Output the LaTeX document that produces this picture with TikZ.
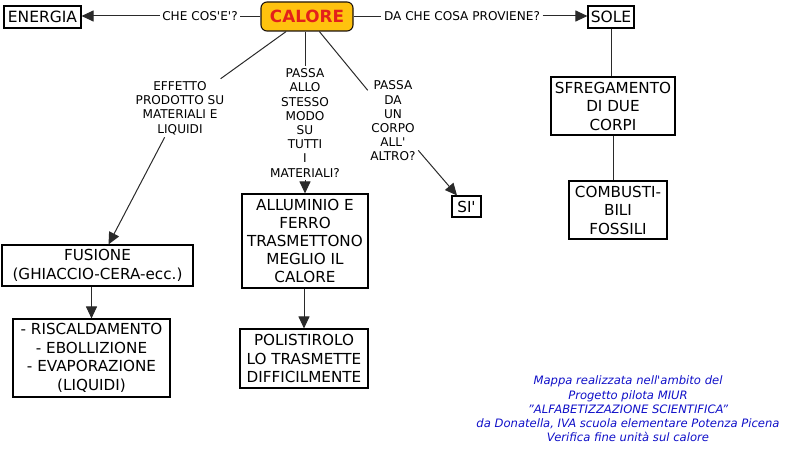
\documentclass[tikz,border=0pt]{standalone}
\usepackage{fontspec}
\setmainfont{DejaVu Sans}
\usetikzlibrary{arrows.meta}
\definecolor{calfill}{HTML}{FFC20E}
\definecolor{calred}{HTML}{E3201B}
\definecolor{footblue}{HTML}{1010C8}
\definecolor{linegray}{HTML}{2A2A2A}
\newcommand\aq{\textquotesingle}
\begin{document}
\begin{tikzpicture}[x=1pt,y=-1pt,
  box/.style={draw=black, line width=1.1pt, align=center, inner sep=0pt, font=\fontsize{15.2}{18.5}\selectfont},
  lab/.style={align=center, inner sep=2.5pt, font=\fontsize{12.1}{14.2}\selectfont},
  conn/.style={draw=linegray, line width=1pt},
  arr/.style={conn, -{Triangle[length=12pt,width=11pt]}}]
\useasboundingbox (0,0) rectangle (788,449);

% main nodes
\node[box, minimum width=77pt, minimum height=22pt, font=\fontsize{15.5}{18}\selectfont] (energia) at (42.5,17) {ENERGIA};
\node[draw=black!85!brown, line width=1.1pt, fill=calfill, rounded corners=6pt,
      minimum width=92pt, minimum height=29pt, text=calred, inner sep=0pt,
      font=\fontsize{16.8}{18}\selectfont\bfseries] (calore) at (307,16.5) {CALORE};
\node[box, minimum width=46pt, minimum height=22pt, font=\fontsize{15.5}{18}\selectfont] (sole) at (611,17) {SOLE};
\node[box, minimum width=124pt, minimum height=58pt] (sfreg) at (613,106) {SFREGAMENTO\\DI DUE\\CORPI};
\node[box, minimum width=98pt, minimum height=58pt] (combust) at (618,210) {COMBUSTI-\\BILI\\FOSSILI};
\node[box, minimum width=191pt, minimum height=41pt] (fusione) at (97.5,265.5) {FUSIONE\\(GHIACCIO-CERA-ecc.)};
\node[box, minimum width=157pt, minimum height=78pt] (risc) at (91.5,358) {- RISCALDAMENTO\\- EBOLLIZIONE\\- EVAPORAZIONE\\(LIQUIDI)};
\node[box, minimum width=126pt, minimum height=94pt, font=\fontsize{15.2}{18}\selectfont] (allum) at (305,241) {ALLUMINIO E\\FERRO\\TRASMETTONO\\MEGLIO IL\\CALORE};
\node[box, minimum width=128pt, minimum height=59pt] (polist) at (304,358.5) {POLISTIROLO\\LO TRASMETTE\\DIFFICILMENTE};
\node[box, minimum width=29pt, minimum height=21pt] (si) at (466.5,206.5) {SI\aq};

% labels
\node[lab] (l1) at (200,16) {CHE COS\aq E\aq?};
\node[lab] (l2) at (462,16) {DA CHE COSA PROVIENE?};
\node[lab] (l3) at (180,108) {EFFETTO\\PRODOTTO SU\\MATERIALI E\\LIQUIDI};
\node[lab] (l4) at (305,123) {PASSA\\ALLO\\STESSO\\MODO\\SU\\TUTTI\\I\\MATERIALI?};
\node[lab] (l5) at (393,121) {PASSA\\DA\\UN\\CORPO\\ALL\aq\\ALTRO?};

% footer
\node[align=center, text=footblue, inner sep=0pt, font=\fontsize{11.6}{14.2}\selectfont\itshape] (foot) at (628,409)
  {Mappa realizzata nell\aq ambito del\\Progetto pilota MIUR\\"ALFABETIZZAZIONE SCIENTIFICA"\\da Donatella, IVA scuola elementare Potenza Picena\\Verifica fine unità sul calore};

% connectors
\draw[conn] (calore.west) -- (calore.west -| l1.east);
\draw[arr] (l1.west) -- (l1.west -| energia.east);
\draw[conn] (calore.east) -- (calore.east -| l2.west);
\draw[arr] (l2.east) -- (l2.east -| sole.west);
\draw[conn] (sole.south) -- (sole.south |- sfreg.north);
\draw[conn] (sfreg.south) -- (sfreg.south |- combust.north);
\draw[conn] (calore) -- (l3);
\draw[arr] (l3) -- (fusione);
\draw[arr] (risc.north |- fusione.south) -- (risc.north);
\draw[conn] (calore.south -| l4.north) -- (l4.north);
\draw[arr] (l4.south) -- (allum.north);
\draw[arr] (allum.south -| polist.north) -- (polist.north);
\draw[conn] (calore) -- (l5);
\draw[arr] (l5) -- (si);
\end{tikzpicture}
\end{document}
